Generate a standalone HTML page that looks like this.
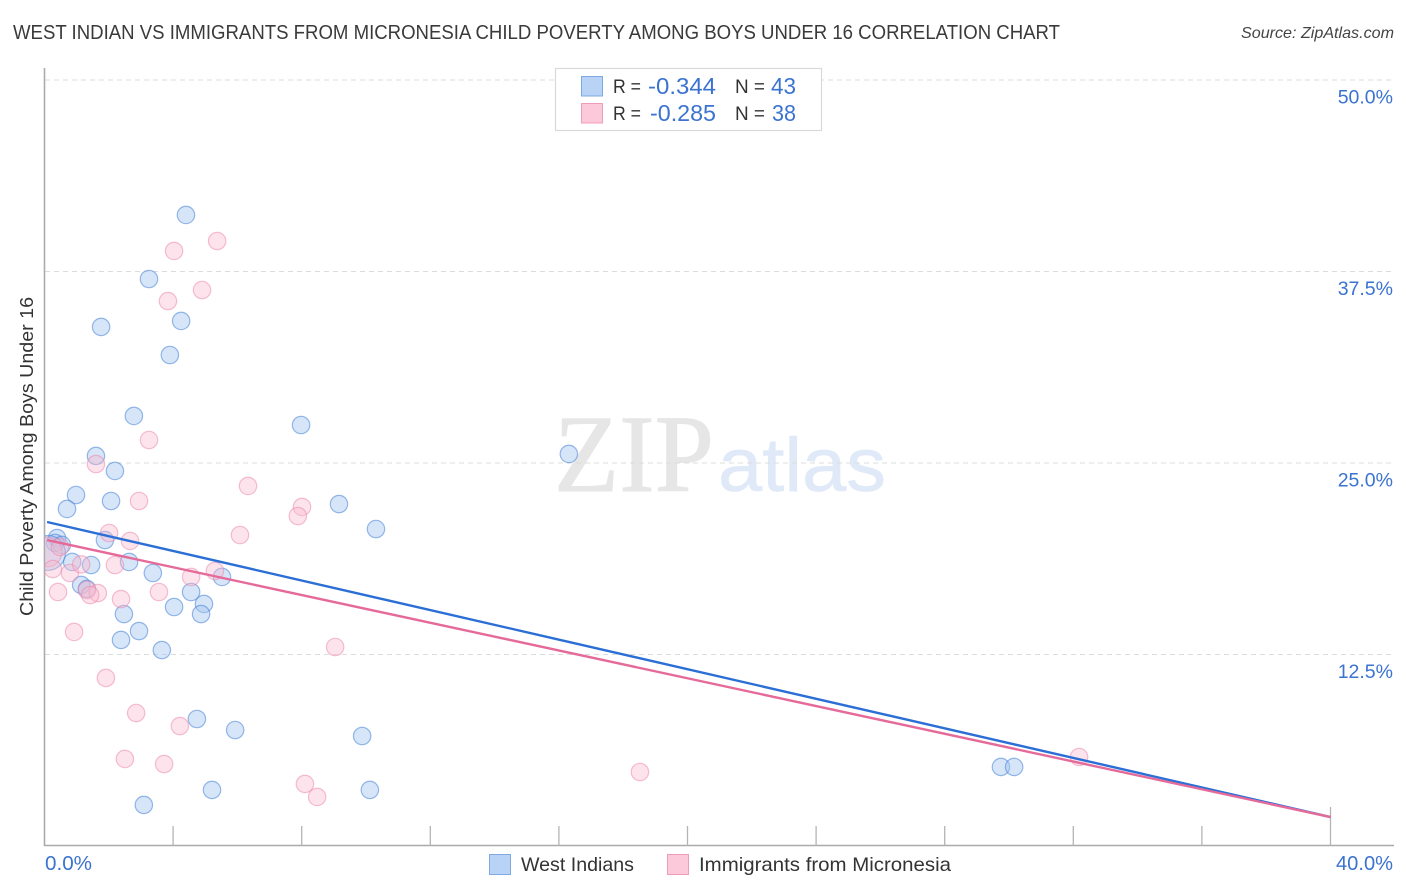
<!DOCTYPE html>
<html>
<head>
<meta charset="utf-8">
<title>West Indian vs Immigrants from Micronesia Child Poverty Correlation Chart</title>
<style>
html,body{margin:0;padding:0;background:#fff;}
svg{display:block;font-family:"Liberation Sans",sans-serif;}
</style>
</head>
<body>
<svg id="chart" xmlns="http://www.w3.org/2000/svg" width="1406" height="892" viewBox="0 0 1406 892">
  <defs><clipPath id="plot-clip"><rect x="45" y="68" width="1350" height="778"/></clipPath></defs>
  <text x="13" y="39" font-size="20" fill="#3a3a3a" textLength="1047" lengthAdjust="spacingAndGlyphs">WEST INDIAN VS IMMIGRANTS FROM MICRONESIA CHILD POVERTY AMONG BOYS UNDER 16 CORRELATION CHART</text>
  <text x="1394" y="38" font-size="16" font-style="italic" fill="#444" text-anchor="end" textLength="153" lengthAdjust="spacingAndGlyphs">Source: ZipAtlas.com</text>
  <text x="554" y="491" font-family="'Liberation Serif',serif" font-size="110" fill="#e6e6e6" stroke="#e6e6e6" stroke-width="1" textLength="160" lengthAdjust="spacingAndGlyphs">ZIP</text>
  <text x="718" y="491" font-size="76" fill="#dfe9f8" stroke="#dfe9f8" stroke-width="0.6" textLength="168" lengthAdjust="spacingAndGlyphs">atlas</text>
  <g id="grid"></g>
  <g id="axes"></g>
  <g clip-path="url(#plot-clip)">
    <g id="blue-points"></g>
    <g id="pink-points"></g>
  </g>
  <g id="trends"></g>
  <text transform="translate(33,456.5) rotate(-90)" font-size="18.5" fill="#333" text-anchor="middle" textLength="319" lengthAdjust="spacingAndGlyphs">Child Poverty Among Boys Under 16</text>

  <g>
    <rect x="555.5" y="68.5" width="266" height="62" fill="#fff" stroke="#d9d9d9" stroke-width="1.2"/>
    <rect x="581.5" y="76.5" width="21" height="19.5" fill="#b8d3f6" stroke="#7fa9e2"/>
    <rect x="581.5" y="103.5" width="21" height="19.5" fill="#fcc9da" stroke="#f09cb9"/>
    <text x="613" y="93" font-size="19" fill="#333" textLength="28" lengthAdjust="spacingAndGlyphs">R =</text>
    <text x="648" y="94" font-size="23" fill="#3b73d0" textLength="68" lengthAdjust="spacingAndGlyphs">-0.344</text>
    <text x="735" y="93" font-size="19" fill="#333" textLength="30" lengthAdjust="spacingAndGlyphs">N =</text>
    <text x="771" y="94" font-size="23" fill="#3b73d0" textLength="25" lengthAdjust="spacingAndGlyphs">43</text>
    <text x="613" y="120" font-size="19" fill="#333" textLength="28" lengthAdjust="spacingAndGlyphs">R =</text>
    <text x="650" y="121" font-size="23" fill="#3b73d0" textLength="66" lengthAdjust="spacingAndGlyphs">-0.285</text>
    <text x="735" y="120" font-size="19" fill="#333" textLength="30" lengthAdjust="spacingAndGlyphs">N =</text>
    <text x="772" y="121" font-size="23" fill="#3b73d0" textLength="24" lengthAdjust="spacingAndGlyphs">38</text>
  </g>

  <g>
    <rect x="489.5" y="854.5" width="21" height="20" fill="#b8d3f6" stroke="#7fa9e2"/>
    <text x="521" y="871" font-size="19.5" fill="#333" textLength="113" lengthAdjust="spacingAndGlyphs">West Indians</text>
    <rect x="667.5" y="854.5" width="21" height="20" fill="#fcc9da" stroke="#f09cb9"/>
    <text x="699" y="871" font-size="19.5" fill="#333" textLength="252" lengthAdjust="spacingAndGlyphs">Immigrants from Micronesia</text>
  </g>
</svg>
<script>
// Chart data (percent values)
var xTickValues = [0, 4, 8, 12, 16, 20, 24, 28, 32, 36, 40];
var xTickLabels = ["0.0%", "40.0%"];
var yTickValues = [12.5, 25, 37.5, 50];
var yTickLabels = ["12.5%", "25.0%", "37.5%", "50.0%"];
var blueX = [4.40,3.25,1.76,4.25,3.90,2.78,7.98,16.31,1.60,2.19,0.98,2.07,0.70,9.16,10.31,0.39,0.33,0.54,1.88,0.86,2.63,1.45,0.11,3.37,5.52,1.14,1.32,4.56,4.03,4.96,4.87,2.47,2.94,2.38,3.65,4.74,5.93,9.88,29.75,30.16,5.21,10.12,3.09];
var blueY = [41.19,37.01,33.88,34.27,32.05,28.07,27.48,25.59,25.46,24.48,22.91,22.52,22.00,22.32,20.69,20.10,19.78,19.65,19.97,18.54,18.54,18.34,19.13,17.82,17.56,17.04,16.78,16.58,15.60,15.80,15.14,15.14,14.03,13.45,12.79,8.29,7.57,7.18,5.16,5.16,3.66,3.66,2.68];
var blueSize = [1,1,1,1,1,1,1,1,1,1,1,1,1,1,1,1,1,1,1,1,1,1,2,1,1,1,1,1,1,1,1,1,1,1,1,1,1,1,1,1,1,1,1];
var pinkX = [5.37,4.03,4.90,3.84,3.25,1.60,6.33,2.94,8.01,7.88,2.01,6.08,2.66,0.08,0.26,0.79,0.42,0.92,1.14,2.19,4.56,5.30,3.56,2.38,1.32,1.66,1.42,9.04,1.91,2.85,4.21,2.50,3.72,8.10,8.48,18.52,32.18,0.48];
var pinkY = [39.49,38.84,36.29,35.57,26.50,24.93,23.50,22.52,22.13,21.54,20.43,20.30,19.91,19.19,18.08,17.82,16.58,13.97,18.38,18.34,17.56,17.95,16.58,16.12,16.71,16.51,16.38,12.99,10.97,8.68,7.83,5.68,5.35,4.05,3.20,4.83,5.81,19.52];
var pinkSize = [1,1,1,1,1,1,1,1,1,1,1,1,1,1.7,1,1,1,1,1,1,1,1,1,1,1,1,1,1,1,1,1,1,1,1,1,1,1,1];
var trendX = [0.08, 40];
var blueTrendY = [21.15, 1.89];
var pinkTrendY = [19.97, 1.89];

var NS = 'http://www.w3.org/2000/svg';
function xPos(v) { return 44.5 + v * 32.15; }
function yPos(v) { return 846 - v * 15.32; }
function make(tag, attrs, parent) {
  var el = document.createElementNS(NS, tag);
  for (var k in attrs) { el.setAttribute(k, attrs[k]); }
  parent.appendChild(el);
  return el;
}

var grid = document.getElementById('grid');
yTickValues.forEach(function (v, i) {
  var line = make('line', { x1: 45, x2: 1394, y1: yPos(v), y2: yPos(v), stroke: '#dcdcdc', 'stroke-width': 1, 'stroke-dasharray': '5 4' }, grid);
  
  
  var label = make('text', { x: 1393, y: yPos(v) + 23.5, 'font-size': 19.5, fill: '#3b73d0', 'text-anchor': 'end' }, grid);
  
  
  label.textContent = yTickLabels[i];
});

var axes = document.getElementById('axes');
var yAxis = make('line', { x1: 44.5, x2: 44.5, y1: 68, y2: 846, stroke: '#aaa', 'stroke-width': 1.6 }, axes);


var xAxis = make('line', { x1: 44, x2: 1394, y1: 845.5, y2: 845.5, stroke: '#aaa', 'stroke-width': 1.4 }, axes);


xTickValues.slice(1).forEach(function (v, i, arr) {
  var top = i === arr.length - 1 ? 807 : 826;
  var tick = make('line', { x1: xPos(v), x2: xPos(v), y1: top, y2: 846, stroke: '#b4b4b4', 'stroke-width': 1.3 }, axes);
  
  
});
var xLabelLeft = make('text', { x: 45, y: 870, 'font-size': 20.5, fill: '#3b73d0', textLength: 47, lengthAdjust: 'spacingAndGlyphs' }, axes);


xLabelLeft.textContent = xTickLabels[0];
var xLabelRight = make('text', { x: 1393, y: 870, 'font-size': 20.5, fill: '#3b73d0', 'text-anchor': 'end', textLength: 57, lengthAdjust: 'spacingAndGlyphs' }, axes);


xLabelRight.textContent = xTickLabels[1];

var bluePoints = document.getElementById('blue-points');
blueX.forEach(function (v, i) {
  var c = make('circle', { cx: xPos(v), cy: yPos(blueY[i]), r: 8.7 * blueSize[i], fill: 'rgba(165,198,240,0.45)', stroke: 'rgba(70,130,215,0.55)', 'stroke-width': 1.2 }, bluePoints);
  
  
});
var pinkPoints = document.getElementById('pink-points');
pinkX.forEach(function (v, i) {
  var c = make('circle', { cx: xPos(v), cy: yPos(pinkY[i]), r: 8.7 * pinkSize[i], fill: 'rgba(250,185,205,0.4)', stroke: 'rgba(235,130,170,0.5)', 'stroke-width': 1.2 }, pinkPoints);
  
  
});

var trends = document.getElementById('trends');
var blueTrend = make('line', { x1: xPos(trendX[0]), x2: xPos(trendX[1]), y1: yPos(blueTrendY[0]), y2: yPos(blueTrendY[1]), stroke: '#2b6fd6', 'stroke-width': 2.4 }, trends);


var pinkTrend = make('line', { x1: xPos(trendX[0]), x2: xPos(trendX[1]), y1: yPos(pinkTrendY[0]), y2: yPos(pinkTrendY[1]), stroke: '#e56a9a', 'stroke-width': 2.4 }, trends);


</script>
</body>
</html>
